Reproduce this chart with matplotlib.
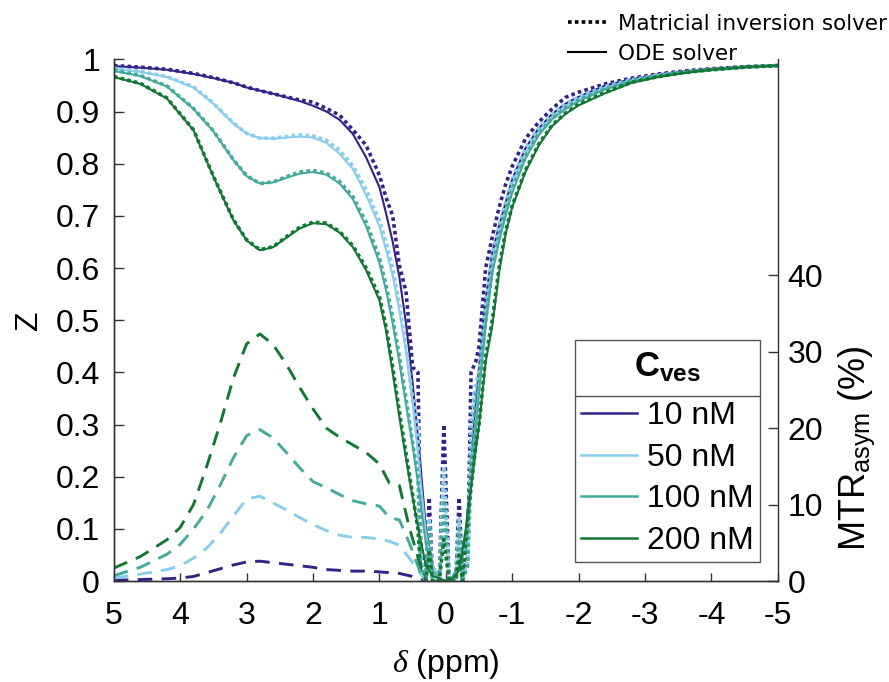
import matplotlib
matplotlib.use('Agg')
import matplotlib.pyplot as plt
from matplotlib.lines import Line2D

plt.rcParams['font.family'] = 'Liberation Sans'
plt.rcParams['mathtext.fontset'] = 'custom'
plt.rcParams['mathtext.rm'] = 'Liberation Sans'
plt.rcParams['mathtext.bf'] = 'Liberation Sans:bold'
plt.rcParams['mathtext.it'] = 'Liberation Serif:italic'
plt.rcParams['axes.unicode_minus'] = False

# frequency offsets (ppm) for the ODE solver curves
ppm = [5.0, 4.6, 4.2, 3.8, 3.5, 3.2, 3.0, 2.8, 2.6, 2.4, 2.2, 2.0, 1.8, 1.6, 1.4, 1.2, 1.0,
       0.9, 0.8, 0.7, 0.6, 0.5, 0.4, 0.3, 0.2, 0.1, 0.0, -0.1, -0.2, -0.3, -0.4, -0.5,
       -0.6, -0.7, -0.8, -0.9, -1.0, -1.2, -1.4, -1.6, -1.8, -2.0, -2.4, -2.8, -3.2,
       -3.6, -4.0, -4.5, -5.0]

z_ode_10 = [.987, .984, .980, .972, .964, .955, .946, .940, .934, .927, .920, .911, .900, .884,
            .857, .812, .755, .705, .650, .583, .494, .380, .250, .100, .030, .005, .000, .008,
            .030, .085, .260, .410, .540, .630, .680, .725, .770, .830, .868, .895, .915, .928,
            .950, .962, .971, .977, .982, .986, .988]
z_ode_50 = [.982, .976, .966, .946, .915, .877, .858, .849, .848, .850, .852, .850, .840, .819,
            .790, .740, .680, .635, .585, .519, .440, .340, .220, .090, .030, .005, .000, .008,
            .030, .070, .230, .380, .510, .610, .665, .710, .760, .820, .862, .890, .910, .925,
            .946, .960, .970, .976, .981, .985, .988]
z_ode_100 = [.978, .968, .948, .905, .862, .807, .776, .762, .764, .773, .781, .784, .779, .762,
             .732, .680, .610, .557, .494, .420, .340, .260, .170, .070, .020, .005, .000, .008,
             .030, .060, .210, .360, .490, .590, .650, .700, .745, .810, .855, .885, .905, .920,
             .943, .958, .968, .975, .980, .985, .988]
z_ode_200 = [.966, .953, .925, .864, .775, .692, .653, .634, .640, .658, .676, .686, .684, .668,
             .640, .596, .538, .480, .400, .315, .235, .160, .090, .030, .010, .005, .000, .005,
             .020, .100, .200, .300, .420, .490, .590, .665, .717, .785, .835, .872, .895, .912,
             .935, .955, .966, .974, .980, .985, .988]

# frequency offsets (ppm) for the matricial inversion curves
ppm_mi = [5.0, 4.6, 4.2, 3.8, 3.5, 3.2, 3.0, 2.8, 2.6, 2.4, 2.2, 2.0, 1.8, 1.6, 1.4, 1.2, 1.0,
          0.9, 0.8, 0.7, 0.6, 0.5, 0.42, 0.38, 0.3, 0.25, 0.2, 0.1, 0.03, -0.05, -0.15, -0.2,
          -0.25, -0.33, -0.38, -0.45, -0.5, -0.6, -0.7, -0.8, -0.9, -1.0, -1.2, -1.4, -1.6,
          -1.8, -2.0, -2.4, -2.8, -3.2, -3.6, -4.0, -4.5, -5.0]

z_mi_10 = [.988, .985, .981, .973, .965, .955, .947, .940, .934, .928, .922, .918, .906, .893,
           .865, .835, .778, .735, .700, .605, .555, .410, .400, .080, .000, .160, .000, .000,
           .300, .000, .000, .160, .000, .050, .400, .420, .450, .600, .660, .715, .760, .795,
           .848, .880, .905, .927, .937, .953, .964, .972, .978, .982, .986, .988]
z_mi_50 = [.983, .977, .967, .947, .916, .878, .858, .849, .849, .852, .855, .853, .845, .826,
           .796, .750, .690, .650, .600, .530, .450, .350, .300, .050, .000, .120, .000, .000,
           .220, .000, .000, .120, .000, .040, .300, .380, .400, .530, .625, .680, .725, .770,
           .830, .868, .895, .915, .928, .948, .961, .970, .976, .981, .985, .988]
z_mi_100 = [.979, .969, .949, .906, .863, .808, .777, .762, .765, .775, .784, .787, .782, .766,
            .737, .688, .620, .567, .505, .430, .350, .265, .200, .030, .000, .100, .000, .000,
            .150, .000, .000, .100, .000, .030, .220, .360, .380, .500, .600, .660, .710, .752,
            .815, .858, .887, .907, .922, .944, .959, .969, .975, .980, .985, .988]
z_mi_200 = [.967, .954, .926, .865, .776, .693, .654, .635, .641, .660, .678, .688, .686, .670,
            .643, .600, .545, .488, .410, .325, .245, .165, .100, .020, .000, .060, .000, .000,
            .080, .000, .000, .050, .000, .120, .180, .260, .300, .430, .500, .600, .670, .720,
            .788, .838, .874, .897, .914, .937, .956, .967, .975, .980, .985, .988]

# MTR asymmetry (%) on the positive side
ppm_mtr = [5.0, 4.6, 4.2, 4.0, 3.8, 3.6, 3.4, 3.2, 3.0, 2.8, 2.6, 2.4, 2.2, 2.0, 1.8, 1.6,
           1.4, 1.2, 1.0, 0.85, 0.7, 0.55, 0.4, 0.3]
mtr_10 = [0.1, 0.2, 0.3, 0.4, 0.6, 1.1, 1.6, 2.1, 2.5, 2.6, 2.4, 2.2, 2.0, 1.8, 1.5, 1.4,
          1.3, 1.3, 1.2, 1.1, 1.0, 0.7, 0.4, 0.0]
mtr_50 = [0.4, 0.9, 1.5, 2.0, 3.0, 4.3, 6.2, 8.5, 10.7, 11.1, 10.2, 9.3, 8.3, 7.4, 6.6, 6.0,
          5.7, 5.7, 5.5, 5.2, 4.7, 3.0, 1.2, 0.0]
mtr_100 = [0.7, 1.8, 3.5, 4.8, 6.8, 9.2, 12.5, 16.1, 19.0, 19.8, 18.7, 16.8, 14.8, 13.0, 12.2,
           11.3, 10.5, 10.1, 9.8, 8.3, 8.0, 5.0, 1.5, 0.0]
mtr_200 = [1.7, 3.2, 5.4, 7.0, 10.0, 15.0, 20.5, 26.5, 31.0, 32.3, 30.9, 28.3, 25.3, 22.5, 20.0,
           18.8, 17.8, 16.8, 15.3, 12.8, 12.5, 7.0, 2.5, 0.0]

labels = ['10 nM', '50 nM', '100 nM', '200 nM']
colors = ['#332288', '#88CCEE', '#44AA99', '#117733']
z_ode = [z_ode_10, z_ode_50, z_ode_100, z_ode_200]
z_mi = [z_mi_10, z_mi_50, z_mi_100, z_mi_200]
mtr = [mtr_10, mtr_50, mtr_100, mtr_200]

fig = plt.figure(figsize=(8.89, 6.82), dpi=100)
ax = fig.add_axes([0.128, 0.148, 0.747, 0.765])
ax2 = ax.twinx()

axis_col = '#333333'
fs = 23

# curvas
for i in range(4):
    ax.plot(ppm_mi, z_mi[i], color=colors[i], lw=2.6, ls=(0, (1, 0.9)))
    ax.plot(ppm, z_ode[i], color=colors[i], lw=1.5)
    ax2.plot(ppm_mtr, mtr[i], color=colors[i], lw=2.1, ls=(0, (5, 3.2)))

ax.set_xlim(5, -5)
ax.set_ylim(0, 1)
ax2.set_ylim(0, 68.2)

ax.set_xticks([5, 4, 3, 2, 1, 0, -1, -2, -3, -4, -5])
ax.set_xticklabels(['5', '4', '3', '2', '1', '0', '-1', '-2', '-3', '-4', '-5'])
ax.set_yticks([0, .1, .2, .3, .4, .5, .6, .7, .8, .9, 1])
ax.set_yticklabels(['0', '0.1', '0.2', '0.3', '0.4', '0.5', '0.6', '0.7', '0.8', '0.9', '1'])
ax2.set_yticks([0, 10, 20, 30, 40])

for a in (ax, ax2):
    a.spines['top'].set_visible(False)
    for s in a.spines.values():
        s.set_color(axis_col)
        s.set_linewidth(1.0)
ax.spines['right'].set_visible(False)

ax.tick_params(axis='x', direction='in', length=6, width=1, color=axis_col, labelsize=fs, pad=14,
               top=False)
ax.tick_params(axis='y', direction='in', length=7, width=1, color=axis_col, labelsize=fs, pad=10,
               right=False)
ax2.tick_params(axis='y', direction='in', length=7, width=1, color=axis_col, labelsize=fs, pad=7)

ax.set_xlabel(r'$\delta$ (ppm)', fontsize=fs)
ax.xaxis.set_label_coords(0.5, -0.127)
ax.set_ylabel('Z', fontsize=fs)
ax.yaxis.set_label_coords(-0.105, 0.5)
ax2.set_ylabel(r'MTR$_{\mathrm{asym}}$ (%)', fontsize=26, rotation=90)
ax2.yaxis.set_label_coords(1.088, 0.255)

# leyenda de concentraciones (titulo vacio para reservar el espacio)
h_conc = [Line2D([0], [0], color=c, lw=1.8) for c in colors]
leg = ax2.legend(h_conc, labels, title=' ', loc='lower right',
                 bbox_to_anchor=(0.973, 0.036), borderaxespad=0, fontsize=fs,
                 title_fontsize=34, frameon=True, fancybox=False, framealpha=1,
                 edgecolor='#555555', handlelength=1.75, handletextpad=0.3,
                 labelspacing=0.36, borderpad=0.2)
leg.get_frame().set_linewidth(1.0)

# linea separadora y titulo C_ves
fig.canvas.draw()
tb = leg.get_title().get_window_extent()
fb = leg.get_frame().get_window_extent()
hb = leg.get_texts()[0].get_window_extent()
ysep = (tb.y0 + hb.y1) / 2
inv = fig.transFigure.inverted()
(x0, y0), (x1, _) = inv.transform([(fb.x0, ysep), (fb.x1, ysep)])
fig.add_artist(Line2D([x0, x1], [y0, y0], color='#555555', lw=1.0))
xt, yt = inv.transform(((fb.x0 + fb.x1) / 2, (fb.y1 + ysep) / 2))
fig.text(xt, yt, r'$\mathbf{C_{ves}}$', ha='center', va='center', fontsize=25)

# leyenda de solvers
h_solv = [Line2D([0], [0], color='k', lw=2.6, ls=(0, (1, 0.9))),
          Line2D([0], [0], color='k', lw=1.5)]
fig.legend(h_solv, ['Matricial inversion solver', 'ODE solver'], loc='upper right',
           bbox_to_anchor=(1.013, 1.0), frameon=False, prop={'family': 'DejaVu Sans', 'size': 15.5},
           handlelength=1.75, handletextpad=0.55, labelspacing=0.45, borderpad=0.15)

fig.savefig('out.png', dpi=100)
